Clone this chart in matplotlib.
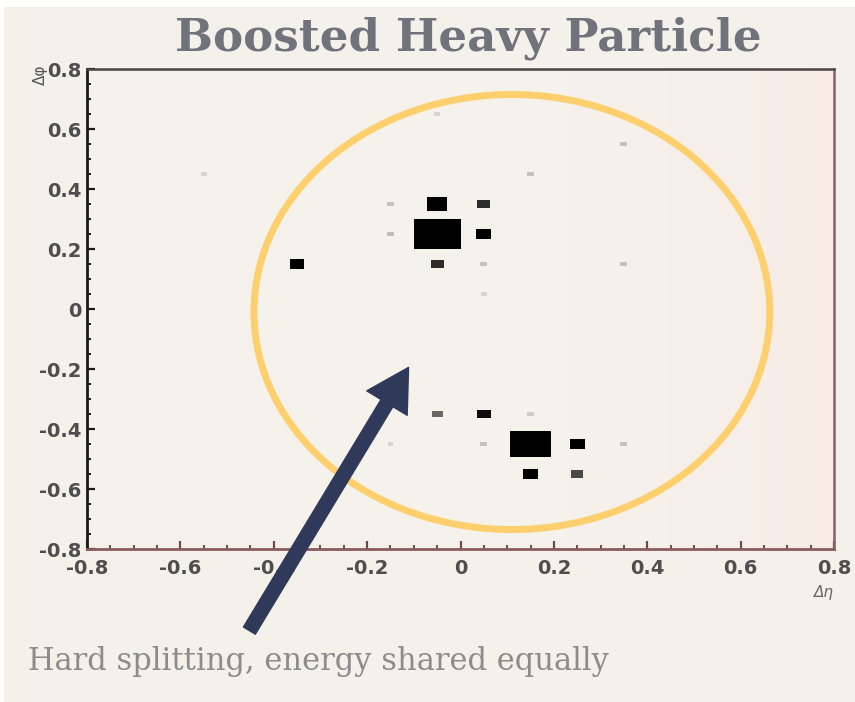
import numpy as np
import matplotlib
matplotlib.use("Agg")
import matplotlib.pyplot as plt
from matplotlib.patches import Rectangle, Ellipse, FancyArrowPatch
from matplotlib.ticker import MultipleLocator, FixedFormatter, FixedLocator

# Cell centres (Δη, Δφ) and deposited energy per cell
eta = [-0.05, -0.05, 0.05, 0.05, -0.15, -0.15, -0.05, 0.05, 0.05, -0.05,
       0.15, 0.25, 0.15, 0.25, -0.05, 0.05, 0.15, 0.05, -0.15, 0.35,
       -0.35, -0.55, 0.15, 0.35, 0.35]
phi = [0.25, 0.35, 0.35, 0.25, 0.35, 0.25, 0.15, 0.15, 0.05, 0.65,
       -0.45, -0.45, -0.55, -0.55, -0.35, -0.35, -0.35, -0.45, -0.45, -0.45,
       0.15, 0.45, 0.45, 0.55, 0.15]
energy = [94, 18, 7, 10, 2, 2.2, 7, 2, 1.4, 1.4,
          72, 10, 9, 6, 5, 8, 1.7, 2, 1.4, 2,
          9, 1.4, 2, 2, 2]

tick_vals = [-0.8, -0.6, -0.4, -0.2, 0, 0.2, 0.4, 0.6, 0.8]
tick_text = ["-0.8", "-0.6", "-0.4", "-0.2", "0", "0.2", "0.4", "0.6", "0.8"]

title = "Boosted Heavy Particle"
caption = "Hard splitting, energy shared equally"

BG = "#f4f1eb"
fig = plt.figure(figsize=(8.55, 7.02), dpi=100, facecolor=BG)
ax = fig.add_axes([0.1018, 0.2179, 0.8736, 0.6838])
ax.set_facecolor("#f5f2ec")
ax.set_xlim(-0.8, 0.8)
ax.set_ylim(-0.8, 0.8)

# soft pink tint towards the right edge of the frame
grad = np.linspace(0, 1, 200) ** 4
tint = np.zeros((1, 200, 4))
tint[..., 0] = 0.99
tint[..., 1] = 0.90
tint[..., 2] = 0.88
tint[..., 3] = grad * 0.45
ax.imshow(tint, extent=[-0.8, 0.8, -0.8, 0.8], aspect="auto", zorder=0)

# box histogram: box area proportional to cell content
cell = 0.1
emax = max(energy)
for x, y, e in zip(eta, phi, energy):
    frac = np.sqrt(e / emax)
    w = cell * frac
    dark = min(1.0, (frac / 0.3) ** 2)
    g = 1.0 - dark
    ax.add_patch(Rectangle((x - w / 2, y - w / 2), w, w,
                           facecolor=(g, g, g), edgecolor="none", zorder=2))

# spines
for side, col, lw in [("left", "#1a1a1a", 2.0), ("top", "#4a4444", 1.8),
                      ("right", "#7a6464", 1.8), ("bottom", "#8a5c5c", 2.0)]:
    ax.spines[side].set_color(col)
    ax.spines[side].set_linewidth(lw)

ax.xaxis.set_major_locator(FixedLocator(tick_vals))
ax.xaxis.set_major_formatter(FixedFormatter(tick_text))
ax.yaxis.set_major_locator(FixedLocator(tick_vals))
ax.yaxis.set_major_formatter(FixedFormatter(tick_text))
ax.xaxis.set_minor_locator(MultipleLocator(0.05))
ax.yaxis.set_minor_locator(MultipleLocator(0.05))
ax.tick_params(axis="both", which="both", direction="in")
ax.tick_params(axis="both", which="major", length=6, width=1.6,
               labelsize=14, labelcolor="#4e4e4e", pad=4)
ax.tick_params(axis="x", which="major", pad=7)
ax.tick_params(axis="both", which="minor", length=3, width=1.4)
ax.tick_params(axis="x", which="both", color="#6e4a4a")
ax.tick_params(axis="y", which="both", color="#1a1a1a")
for lab in ax.get_xticklabels() + ax.get_yticklabels():
    lab.set_fontweight("bold")

ax.text(1.0, -0.075, "Δη", transform=ax.transAxes, ha="right", va="top",
        fontsize=11, color="#666666", style="italic")
ax.text(-0.062, 1.01, "Δφ", transform=ax.transAxes, ha="center", va="top",
        fontsize=11, color="#555555", rotation=90)

# highlight ellipse around the two subjets
ax.add_patch(Ellipse((0.11, -0.01), 1.105, 1.45, fill=False,
                     edgecolor="#fdcf6d", linewidth=5, zorder=3, clip_on=False))

fig.text(0.548, 0.946, title, ha="center", va="center", fontsize=32.5,
         fontweight="bold", family="DejaVu Serif", color="#70737c")
fig.text(0.033, 0.057, caption, ha="left", va="center", fontsize=22,
         family="DejaVu Serif", color="#8c8c8c")

arrow = FancyArrowPatch((0.290, 0.0983), (0.4795, 0.48),
                        transform=fig.transFigure,
                        arrowstyle="simple,head_width=34,head_length=30,tail_width=10",
                        mutation_scale=1, color="#2f3959", zorder=5)
fig.add_artist(arrow)

# white margin strips along the top and left edges
fig.add_artist(Rectangle((0, 0.99), 1, 0.01, transform=fig.transFigure,
                         facecolor="white", edgecolor="none"))
fig.add_artist(Rectangle((0, 0), 0.005, 1, transform=fig.transFigure,
                         facecolor="white", edgecolor="none"))

fig.savefig("out.png", dpi=100, facecolor=BG)
